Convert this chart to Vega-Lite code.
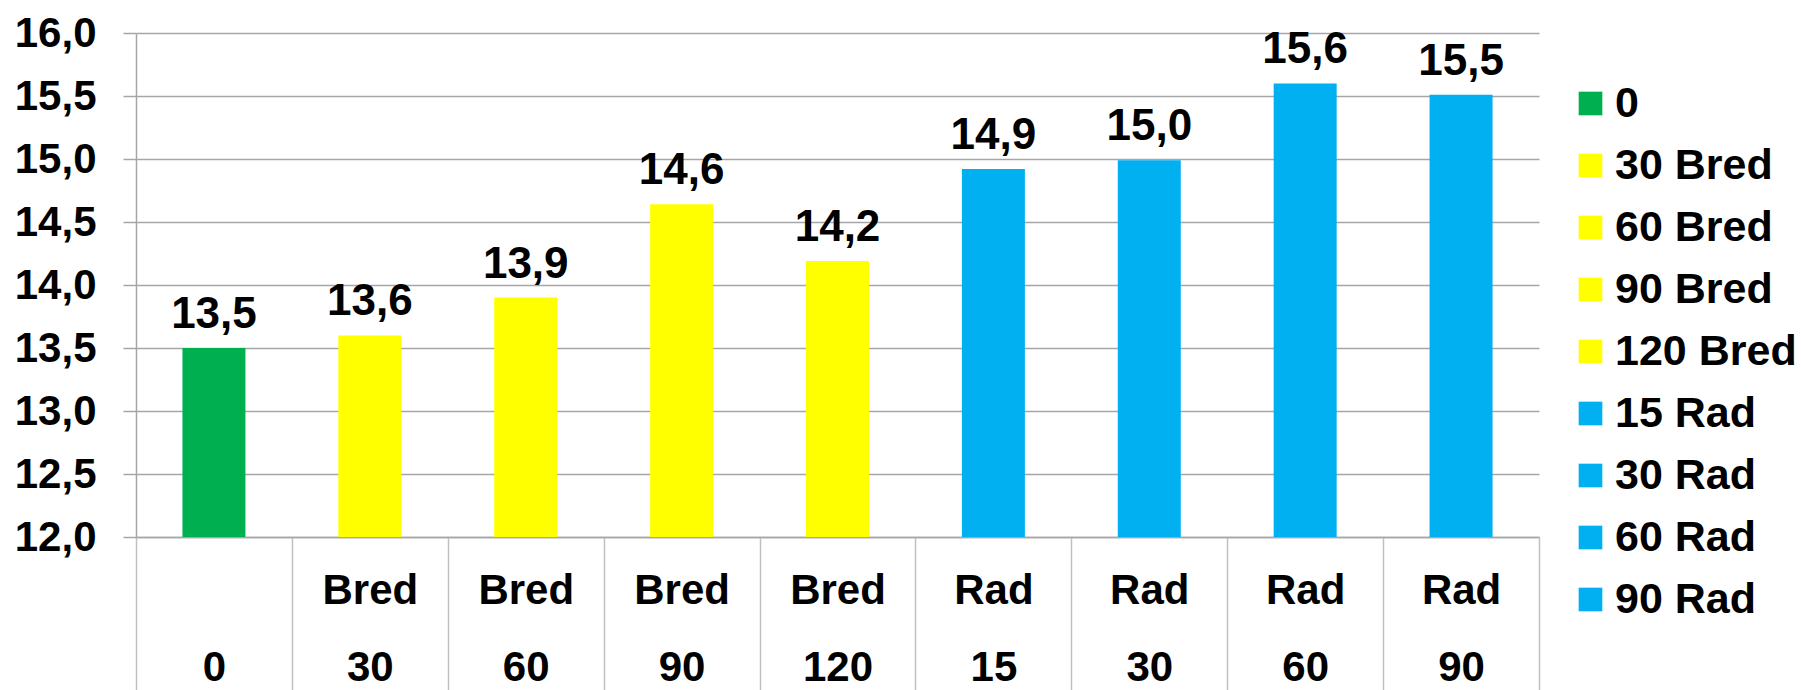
{
  "$schema": "https://vega.github.io/schema/vega-lite/v6.json",
  "width": 1403,
  "height": 504,
  "autosize": {"type": "none"},
  "padding": {"left": 136, "top": 33, "right": 262, "bottom": 153},
  "background": "white",
  "config": {
    "view": {"stroke": null},
    "font": "Liberation Sans",
    "axis": {"labelFont": "Liberation Sans", "labelFontWeight": "bold", "labelColor": "black"},
    "legend": {"labelFont": "Liberation Sans", "labelFontWeight": "bold", "labelColor": "black"}
  },
  "data": {
    "values": [
      {"cat": "0", "series": "0", "value": 13.5, "label": "13,5"},
      {"cat": "Bred|30", "series": "30 Bred", "value": 13.6, "label": "13,6"},
      {"cat": "Bred|60", "series": "60 Bred", "value": 13.9, "label": "13,9"},
      {"cat": "Bred|90", "series": "90 Bred", "value": 14.64, "label": "14,6"},
      {"cat": "Bred|120", "series": "120 Bred", "value": 14.19, "label": "14,2"},
      {"cat": "Rad|15", "series": "15 Rad", "value": 14.92, "label": "14,9"},
      {"cat": "Rad|30", "series": "30 Rad", "value": 14.99, "label": "15,0"},
      {"cat": "Rad|60", "series": "60 Rad", "value": 15.6, "label": "15,6"},
      {"cat": "Rad|90", "series": "90 Rad", "value": 15.51, "label": "15,5"}
    ]
  },
  "encoding": {
    "x": {
      "field": "cat",
      "type": "nominal",
      "sort": null,
      "scale": {"paddingInner": 0, "paddingOuter": 0},
      "axis": {
        "title": null,
        "labelAngle": 0,
        "labelExpr": "isValid(datum.value) ? split(datum.value, '|') : ''",
        "labelFontSize": 42,
        "labelLineHeight": 77,
        "labelBaseline": "top",
        "labelPadding": {"condition": {"test": "datum.value == '0'", "value": -50}, "value": -127},
        "labelLimit": 300,
        "tickBand": "extent",
        "tickSize": 160,
        "tickColor": "#C0C0C0",
        "tickWidth": 1.5,
        "domainColor": "#A6A6A6",
        "domainWidth": 1.5,
        "grid": false
      }
    },
    "y": {
      "field": "value",
      "type": "quantitative",
      "scale": {"domain": [12, 16], "zero": false, "nice": false},
      "axis": {
        "title": null,
        "values": [12, 12.5, 13, 13.5, 14, 14.5, 15, 15.5, 16],
        "labelExpr": "replace(format(datum.value, '.1f'), '.', ',')",
        "labelFontSize": 42,
        "labelPadding": 27,
        "tickSize": 13,
        "tickColor": "#A6A6A6",
        "tickWidth": 1.5,
        "domainColor": "#A6A6A6",
        "domainWidth": 1.5,
        "grid": true,
        "gridColor": "#A6A6A6",
        "gridWidth": 1.5
      }
    }
  },
  "layer": [
    {
      "mark": {"type": "bar", "width": 63},
      "encoding": {
        "y2": {"datum": 12},
        "color": {
          "field": "series",
          "type": "nominal",
          "scale": {
            "domain": ["0", "30 Bred", "60 Bred", "90 Bred", "120 Bred", "15 Rad", "30 Rad", "60 Rad", "90 Rad"],
            "range": ["#00B050", "#FFFF00", "#FFFF00", "#FFFF00", "#FFFF00", "#00B0F0", "#00B0F0", "#00B0F0", "#00B0F0"]
          },
          "legend": {
            "title": null,
            "orient": "none",
            "legendX": 1433,
            "legendY": 49,
            "padding": 0,
            "symbolType": "square",
            "symbolSize": 560,
            "symbolStrokeWidth": 0,
            "symbolOpacity": 1,
            "labelFontSize": 43,
            "labelOffset": 3,
            "rowPadding": 18,
            "labelLimit": 400
          }
        }
      }
    },
    {
      "mark": {"type": "text", "baseline": "alphabetic", "dy": -20, "fontSize": 44, "fontWeight": "bold", "font": "Liberation Sans", "color": "black"},
      "encoding": {"text": {"field": "label"}}
    }
  ]
}
